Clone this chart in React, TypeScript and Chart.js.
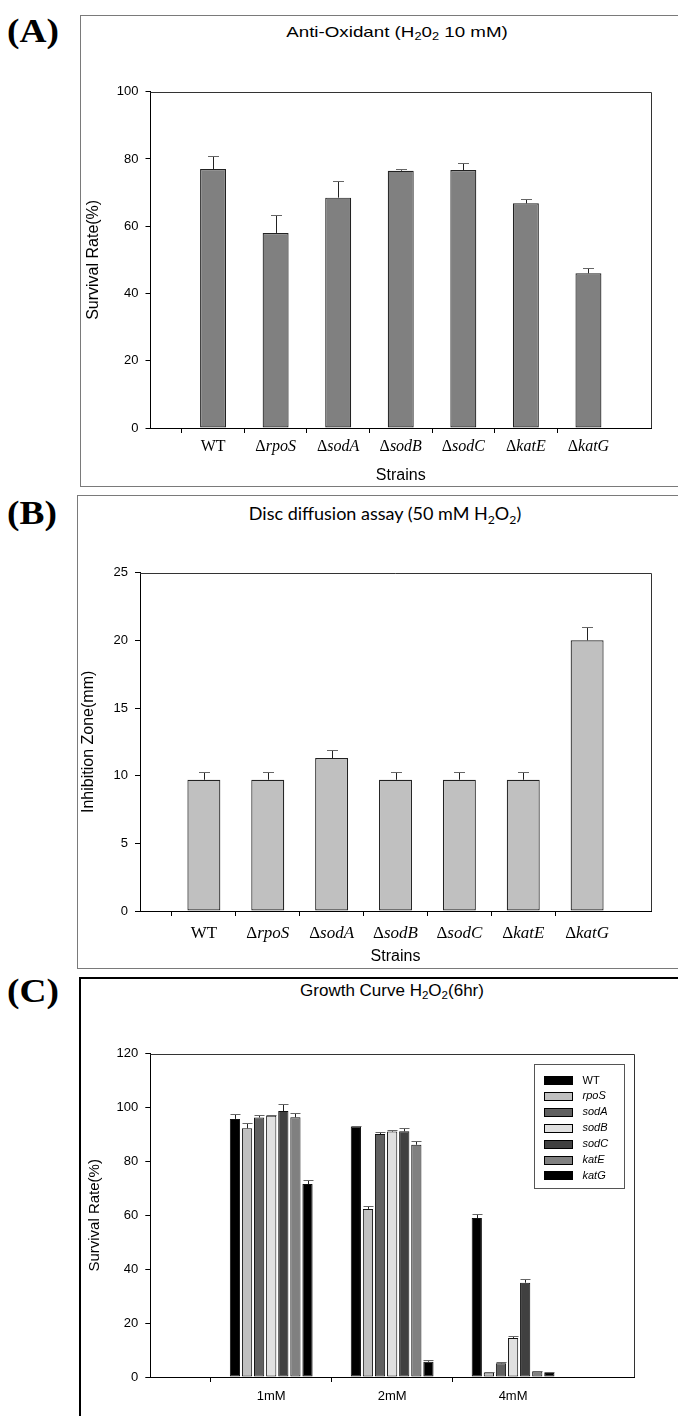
import React, { useEffect, useRef } from 'react';
import { Chart, registerables } from 'chart.js';

Chart.register(...registerables);

// ---------------- data ----------------
const strainLabels = ['', 'WT', 'ΔrpoS', 'ΔsodA', 'ΔsodB', 'ΔsodC', 'ΔkatE', 'ΔkatG', ''];

const antiOxidantSurvival = [null, 77, 58, 68.5, 76.5, 76.7, 66.8, 46, null];
const antiOxidantError = [null, 4, 5.2, 5, 0.6, 2, 1.4, 1.6, null];

const inhibitionZone = [null, 9.7, 9.7, 11.3, 9.7, 9.7, 9.7, 20, null];
const inhibitionError = [null, 0.6, 0.6, 0.6, 0.6, 0.6, 0.6, 1.0, null];

const doseLabels = ['', '1mM', '2mM', '4mM', ''];
const growthSeriesNames = ['WT', 'rpoS', 'sodA', 'sodB', 'sodC', 'katE', 'katG'];
const growthWT = [null, 95.8, 93.0, 59.0, null];
const growthRpoS = [null, 92.3, 62.4, 1.7, null];
const growthSodA = [null, 96.3, 90.2, 5.1, null];
const growthSodB = [null, 97.0, 91.1, 14.5, null];
const growthSodC = [null, 98.7, 91.2, 35.0, null];
const growthKatE = [null, 96.4, 86.2, 2.0, null];
const growthKatG = [null, 71.6, 5.7, 1.5, null];
const growthWTErr = [null, 1.9, 0.2, 1.4, null];
const growthRpoSErr = [null, 1.8, 1.2, 0.3, null];
const growthSodAErr = [null, 0.8, 0.7, 0.3, null];
const growthSodBErr = [null, 0.3, 0.5, 0.6, null];
const growthSodCErr = [null, 2.6, 1.1, 1.2, null];
const growthKatEErr = [null, 1.5, 1.5, 0.3, null];
const growthKatGErr = [null, 1.5, 0.5, 0.2, null];

const growthValues = [growthWT, growthRpoS, growthSodA, growthSodB, growthSodC, growthKatE, growthKatG];
const growthErrors = [growthWTErr, growthRpoSErr, growthSodAErr, growthSodBErr, growthSodCErr, growthKatEErr, growthKatGErr];
const growthColors = ['#000000', '#c0c0c0', '#606060', '#e0e0e0', '#404040', '#808080', '#000000'];

// ---------------- plugins ----------------
const SANS = '"Liberation Sans", Arial, sans-serif';
const SERIF = '"Liberation Serif", "Times New Roman", serif';

const errorBarPlugin = {
  id: 'errorBars',
  afterDatasetsDraw(chart: any) {
    const { ctx } = chart;
    const yScale = chart.scales.y;
    const capW = chart.options.plugins.errorBars?.capWidth ?? 10;
    chart.data.datasets.forEach((ds: any, di: number) => {
      const errs = ds.errors;
      if (!errs) return;
      const meta = chart.getDatasetMeta(di);
      meta.data.forEach((bar: any, i: number) => {
        const v = ds.data[i];
        const e = errs[i];
        if (v == null || e == null) return;
        const x = Math.round(bar.x) + 0.5;
        const y0 = yScale.getPixelForValue(v);
        const y1 = Math.round(yScale.getPixelForValue(v + e)) + 0.5;
        ctx.save();
        ctx.lineWidth = 1;
        ctx.strokeStyle = '#222';
        ctx.beginPath();
        ctx.moveTo(x, y0);
        ctx.lineTo(x, y1);
        ctx.stroke();
        ctx.strokeStyle = '#666';
        ctx.beginPath();
        ctx.moveTo(x - capW / 2, y1);
        ctx.lineTo(x + capW / 2, y1);
        ctx.stroke();
        ctx.restore();
      });
    });
  },
};

const framePlugin = {
  id: 'frame',
  afterDraw(chart: any) {
    const { ctx, chartArea } = chart;
    ctx.save();
    ctx.strokeStyle = '#333';
    ctx.lineWidth = 1;
    ctx.beginPath();
    ctx.moveTo(chartArea.left, Math.round(chartArea.top) + 0.5);
    ctx.lineTo(Math.round(chartArea.right) + 0.5, Math.round(chartArea.top) + 0.5);
    ctx.lineTo(Math.round(chartArea.right) + 0.5, chartArea.bottom);
    ctx.stroke();
    ctx.restore();
  },
};

const strainTickPlugin = {
  id: 'strainTicks',
  afterDraw(chart: any) {
    const opts = chart.options.plugins.strainTicks;
    if (!opts || !opts.enabled) return;
    const { ctx } = chart;
    const xs = chart.scales.x;
    const labels: string[] = chart.data.labels;
    const upright = `${opts.size}px ${SERIF}`;
    const italic = `italic ${opts.size}px ${SERIF}`;
    ctx.save();
    ctx.fillStyle = '#000';
    ctx.textBaseline = 'middle';
    ctx.textAlign = 'left';
    labels.forEach((lab, i) => {
      if (!lab) return;
      const parts: [string, string][] = lab.startsWith('Δ')
        ? [['Δ', upright], [lab.slice(1), italic]]
        : [[lab, upright]];
      let w = 0;
      parts.forEach(([t, f]) => {
        ctx.font = f;
        w += ctx.measureText(t).width;
      });
      let x = xs.getPixelForTick(i) - w / 2;
      parts.forEach(([t, f]) => {
        ctx.font = f;
        ctx.fillText(t, x, opts.y);
        x += ctx.measureText(t).width;
      });
    });
    ctx.restore();
  },
};

const insideLegendPlugin = {
  id: 'insideLegend',
  afterDraw(chart: any) {
    const opts = chart.options.plugins.insideLegend;
    if (!opts || !opts.enabled) return;
    const { ctx, chartArea } = chart;
    const left = Math.round(chartArea.right - opts.offsetRight - opts.width) + 0.5;
    const top = Math.round(chartArea.top + opts.offsetTop) + 0.5;
    ctx.save();
    ctx.fillStyle = '#fff';
    ctx.fillRect(left, top, opts.width, opts.height);
    ctx.strokeStyle = '#555';
    ctx.lineWidth = 1;
    ctx.strokeRect(left, top, opts.width, opts.height);
    chart.data.datasets.forEach((ds: any, i: number) => {
      const cy = top + opts.firstRow + i * opts.rowGap;
      ctx.fillStyle = ds.backgroundColor;
      ctx.fillRect(left + 10, Math.round(cy - 4.5), 28, 9);
      ctx.strokeStyle = '#000';
      ctx.strokeRect(left + 10, Math.round(cy - 4.5) + 0.5, 28, 8);
      ctx.fillStyle = '#000';
      ctx.font = `${i === 0 ? '' : 'italic '}${opts.fontSize}px ${SANS}`;
      ctx.textBaseline = 'middle';
      ctx.textAlign = 'left';
      ctx.fillText(ds.label, left + 48, cy);
    });
    ctx.restore();
  },
};

// ---------------- chart configs ----------------
type Geom = {
  padTop: number;
  padRight: number;
  yWidth: number;
  xHeight: number;
};

function yAxis(max: number, step: number, title: string, titleSize: number, titlePad: number, yWidth: number) {
  return {
    min: 0,
    max,
    ticks: { stepSize: step, color: '#000', font: { size: 13, family: SANS }, padding: 7 },
    grid: { drawOnChartArea: false, drawTicks: true, tickLength: 5, tickColor: '#000' },
    border: { display: true, color: '#000', width: 1 },
    title: { display: true, text: title, color: '#000', font: { size: titleSize, family: SANS }, padding: { top: titlePad, bottom: 0 } },
    afterFit: (s: any) => {
      s.width = yWidth;
    },
  };
}

function strainConfig(values: any[], errors: any[], fill: string, barPct: number, yMax: number, yStep: number, yTitle: string, g: Geom, labelY: number, labelSize: number, strainsPad: number, yTitlePad: number, capWidth: number) {
  return {
    type: 'bar',
    data: {
      labels: strainLabels,
      datasets: [
        {
          data: values,
          errors,
          backgroundColor: fill,
          borderColor: '#222',
          borderWidth: 1.2,
          borderSkipped: false,
          categoryPercentage: 1,
          barPercentage: barPct,
        },
      ],
    },
    options: {
      animation: false,
      responsive: false,
      devicePixelRatio: 1,
      layout: { padding: { top: g.padTop, right: g.padRight, left: 0, bottom: 0 } },
      plugins: {
        legend: { display: false },
        tooltip: { enabled: false },
        errorBars: { capWidth },
        strainTicks: { enabled: true, y: labelY, size: labelSize },
      },
      scales: {
        x: {
          offset: false,
          ticks: { display: false, autoSkip: false },
          grid: {
            drawOnChartArea: false,
            drawTicks: true,
            tickLength: 5,
            tickColor: (c: any) => (strainLabels[c.index] ? '#000' : 'rgba(0,0,0,0)'),
          },
          border: { display: true, color: '#000', width: 1 },
          title: { display: true, text: 'Strains', color: '#000', font: { size: 16, family: SANS }, padding: { top: 0, bottom: strainsPad } },
          afterFit: (s: any) => {
            s.height = g.xHeight;
          },
        },
        y: yAxis(yMax, yStep, yTitle, 16, yTitlePad, g.yWidth),
      },
    },
    plugins: [errorBarPlugin, framePlugin, strainTickPlugin],
  };
}

function growthConfig() {
  const g: Geom = { padTop: 53.7, padRight: 44, yWidth: 69.3, xHeight: 39 };
  return {
    type: 'bar',
    data: {
      labels: doseLabels,
      datasets: growthSeriesNames.map((name, i) => ({
        label: name,
        data: growthValues[i],
        errors: growthErrors[i],
        backgroundColor: growthColors[i],
        borderColor: '#111',
        borderWidth: 1,
        borderSkipped: false,
        categoryPercentage: 0.7,
        barPercentage: 0.845,
      })),
    },
    options: {
      animation: false,
      responsive: false,
      devicePixelRatio: 1,
      layout: { padding: { top: g.padTop, right: g.padRight, left: 0, bottom: 0 } },
      plugins: {
        legend: { display: false },
        tooltip: { enabled: false },
        errorBars: { capWidth: 10 },
        insideLegend: { enabled: true, offsetRight: 10, offsetTop: 10.3, width: 90, height: 124, firstRow: 16, rowGap: 15.9, fontSize: 11 },
      },
      scales: {
        x: {
          offset: false,
          ticks: { autoSkip: false, maxRotation: 0, color: '#000', font: { size: 13, family: SANS }, padding: 6.2 },
          grid: {
            drawOnChartArea: false,
            drawTicks: true,
            tickLength: 5,
            tickColor: (c: any) => (doseLabels[c.index] ? '#000' : 'rgba(0,0,0,0)'),
          },
          border: { display: true, color: '#000', width: 1 },
          afterFit: (s: any) => {
            s.height = g.xHeight;
          },
        },
        y: yAxis(120, 20, 'Survival Rate(%)', 15, 5, g.yWidth),
      },
    },
    plugins: [errorBarPlugin, framePlugin, insideLegendPlugin],
  };
}

// ---------------- components ----------------
function ChartCanvas({ left, top, width, height, make }: { left: number; top: number; width: number; height: number; make: () => any }) {
  const ref = useRef<HTMLCanvasElement>(null);
  useEffect(() => {
    const chart = new Chart(ref.current as HTMLCanvasElement, make());
    return () => chart.destroy();
  }, []);
  return <canvas ref={ref} width={width} height={height} style={{ position: 'absolute', left, top, width, height }} />;
}

const subStyle: React.CSSProperties = { fontSize: '0.68em', verticalAlign: '-0.3em', lineHeight: 0 };

function PanelLabel({ text, top }: { text: string; top: number }) {
  return (
    <div style={{ position: 'absolute', left: 7, top, fontFamily: SERIF, fontWeight: 'bold', fontSize: 34, lineHeight: 1, transform: 'scaleX(1.1)', transformOrigin: 'left center' }}>
      {text}
    </div>
  );
}

function Title({ cx, cy, size, family, scaleX, children }: { cx: number; cy: number; size: number; family: string; scaleX: number; children: React.ReactNode }) {
  return (
    <div style={{ position: 'absolute', left: cx - 200, top: cy - size / 2, width: 400, textAlign: 'center', fontFamily: family, fontSize: size, lineHeight: 1, whiteSpace: 'nowrap', transform: `scaleX(${scaleX})`, color: '#000' }}>
      {children}
    </div>
  );
}

export default function App() {
  return (
    <div style={{ position: 'absolute', left: 0, top: 0, width: 678, height: 1416, overflow: 'hidden', background: '#fff' }}>
      {/* Panel A */}
      <PanelLabel text="(A)" top={14} />
      <div style={{ position: 'absolute', left: 80, top: 15, width: 640, height: 472, border: '1.5px solid #7a7a7a', boxSizing: 'border-box' }} />
      <Title cx={397} cy={31} size={15} family={SANS} scaleX={1.25}>
        Anti-Oxidant (H<sub style={subStyle}>2</sub>0<sub style={subStyle}>2</sub> 10 mM)
      </Title>
      <ChartCanvas
        left={80}
        top={40}
        width={598}
        height={447}
        make={() =>
          strainConfig(antiOxidantSurvival, antiOxidantError, '#808080', 0.415, 100, 20, 'Survival Rate(%)', { padTop: 51.7, padRight: 27, yWidth: 70.5, xHeight: 59 }, 406.7, 16, 1.4, 4.4, 11)
        }
      />

      {/* Panel B */}
      <PanelLabel text="(B)" top={496} />
      <div style={{ position: 'absolute', left: 77, top: 495, width: 640, height: 474, border: '1.5px solid #7a7a7a', boxSizing: 'border-box' }} />
      <Title cx={385} cy={513} size={18} family={'Lato, "Open Sans", sans-serif'} scaleX={1}>
        Disc diffusion assay (50 mM H<sub style={subStyle}>2</sub>O<sub style={subStyle}>2</sub>)
      </Title>
      <ChartCanvas
        left={77}
        top={520}
        width={601}
        height={449}
        make={() =>
          strainConfig(inhibitionZone, inhibitionError, '#c0c0c0', 0.516, 25, 5, 'Inhibition Zone(mm)', { padTop: 52.7, padRight: 27, yWidth: 63, xHeight: 58 }, 414, 17, 2.4, 1.9, 11)
        }
      />

      {/* Panel C */}
      <PanelLabel text="(C)" top={974} />
      <div style={{ position: 'absolute', left: 79, top: 977, width: 640, height: 480, border: '2px solid #000', boxSizing: 'border-box' }} />
      <Title cx={392} cy={990} size={17} family={SANS} scaleX={1}>
        Growth Curve H<sub style={subStyle}>2</sub>O<sub style={subStyle}>2</sub>(6hr)
      </Title>
      <ChartCanvas left={81} top={1000} width={597} height={416} make={growthConfig} />
    </div>
  );
}
